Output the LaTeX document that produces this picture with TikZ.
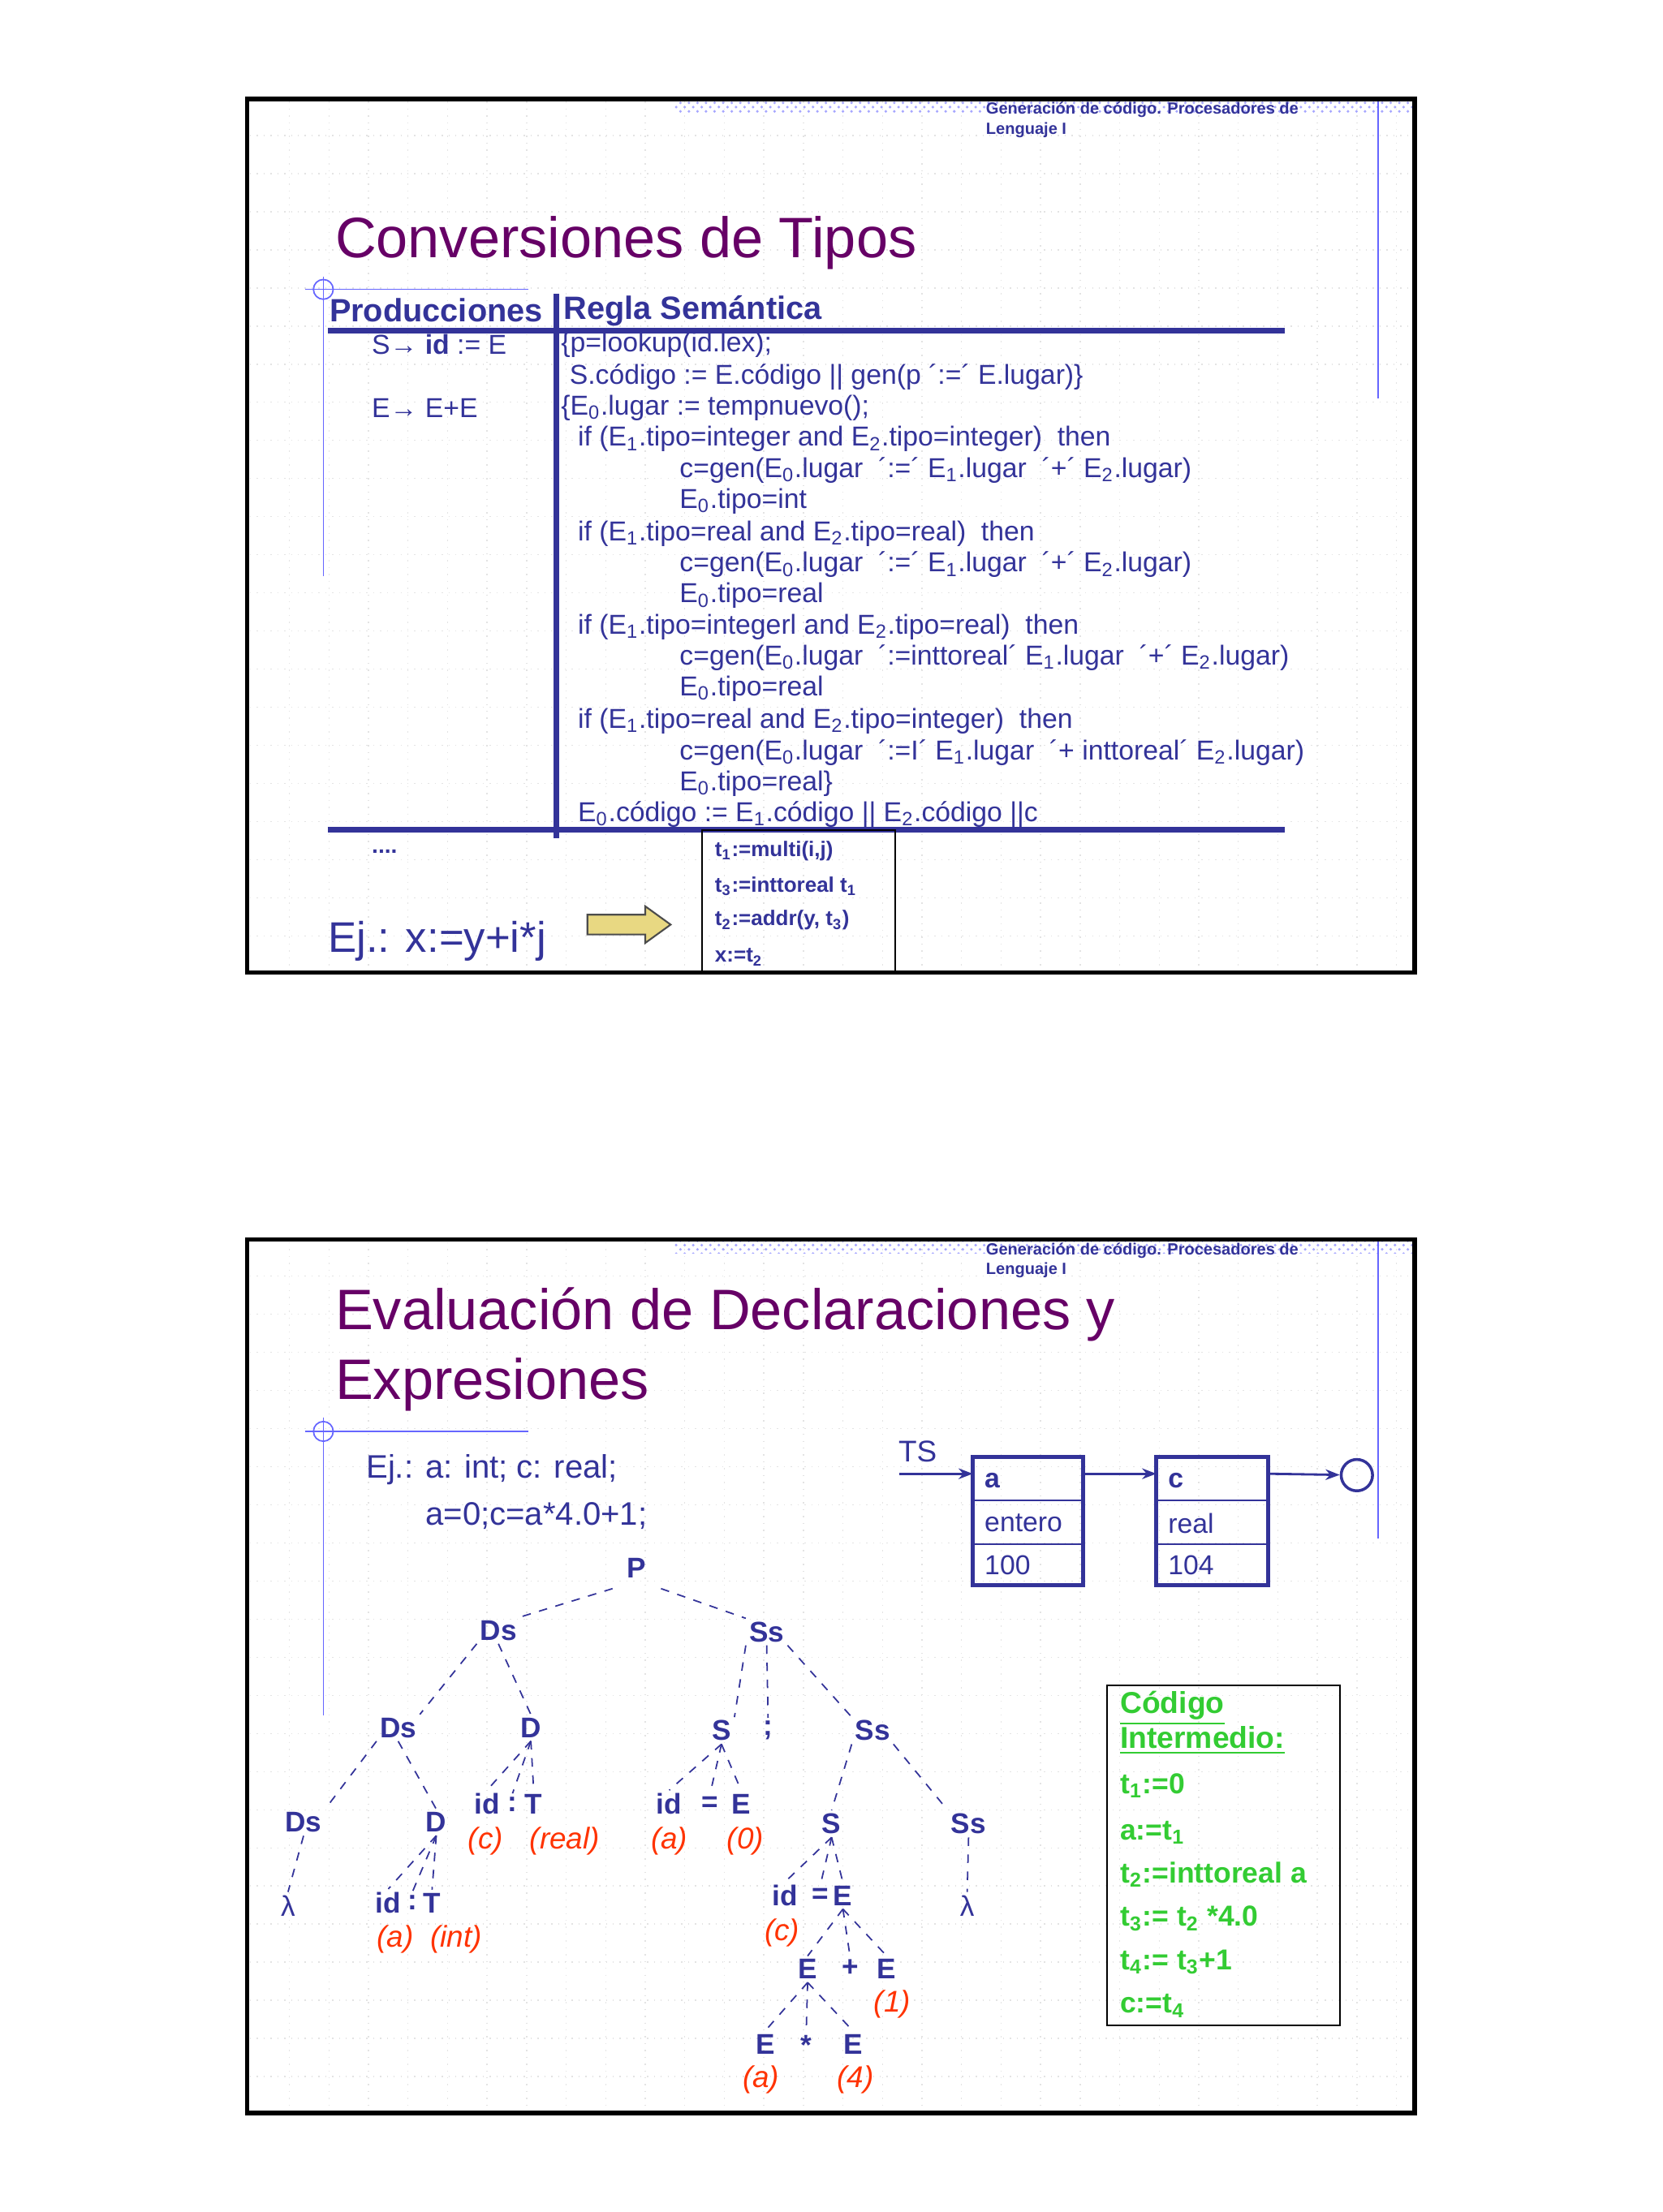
\documentclass[tikz,border=0pt]{standalone}
\usepackage{fontspec}
\setmainfont{Liberation Sans}
\usetikzlibrary{patterns,arrows.meta,shapes.arrows}
\newcommand\fs[1]{\fontsize{#1}{#1}\selectfont}
\newcommand\sbs[1]{\textsubscript{#1}}
\definecolor{navy}{HTML}{333399}
\definecolor{ttl}{HTML}{660066}
\definecolor{grn}{HTML}{33CC33}
\definecolor{rd}{HTML}{FF3300}
\definecolor{ylw}{HTML}{E8D882}
\tikzset{
 frame/.style={draw=black,line width=1.6pt},
 tx/.style={anchor=west,inner sep=0pt,text=navy,font=\fs{9.6pt}},
 hdr/.style={anchor=west,inner sep=0pt,text=navy,font=\fs{5.7pt}\bfseries},
 ttlst/.style={anchor=west,inner sep=0pt,text=ttl,font=\fs{20pt}},
 tn/.style={inner sep=1pt,text=navy,font=\fs{10pt}\bfseries},
 rl/.style={inner sep=0pt,text=rd,font=\fs{10.5pt}\itshape},
 ed/.style={draw=navy,dashed,line width=0.5pt},
 cd/.style={anchor=west,inner sep=0pt,text=grn,font=\fs{10.1pt}\bfseries},
 grid/.style={draw=gray!22,dotted,line width=0.4pt},
 thinblue/.style={draw=blue!60,line width=0.5pt}
}
\begin{document}
\begin{tikzpicture}[x=0.017396cm,y=-0.017396cm]
\useasboundingbox[fill=white] (0,0) rectangle (1177.3,1567);
% ===== grids =====
\foreach \yo in {0,808}{
 \foreach \gy in {96,123,...,680} \draw[grid] (177,\gy+\yo) -- (1000,\gy+\yo);
 \foreach \gx in {205,233,...,1000} \draw[grid] (\gx,72+\yo) -- (\gx,687+\yo);
 \fill[pattern=crosshatch dots,pattern color=blue!35] (478,71+\yo) rectangle (1001,80+\yo);
 \draw[thinblue] (976,71+\yo) -- (976,282+\yo);
 \node[hdr] (h1\yo) at (698,78+\yo) {Generación de código. Procesadores de};
 \node[hdr] (h2\yo) at (698,92+\yo) {Lenguaje I};
}
% ===== slide 1 =====
\draw[thinblue] (216,205) -- (374,205);
\draw[thinblue] (229,196) -- (229,408);
\draw[thinblue] (229,205) circle (7);
\node[ttlst] (t1) at (237,172) {Conversiones de Tipos};
\node[tx,font=\fs{11.3pt}\bfseries] (ph) at (233,220) {Producciones};
\node[tx,font=\fs{11.3pt}\bfseries] (rh) at (399,220) {Regla Semántica};
\draw[navy,line width=2pt] (232,234) -- (910,234);
\draw[navy,line width=2pt] (232,588) -- (910,588);
\draw[navy,line width=2pt] (394,208) -- (394,594);
\node[tx] (l1) at (263,244) {S→ \textbf{id} := E};
\node[tx] (l2) at (263,289) {E→ E+E};
\node[tx] (r1) at (397,244) {\{p=lookup(id.lex);};
\node[tx] (r2) at (403,267) {S.código := E.código || gen(p ´:=´ E.lugar)\}};
\node[tx] (r3) at (397,289) {\{E\sbs0.lugar := tempnuevo();};
\node[tx] (r4) at (409,311) {if (E\sbs1.tipo=integer and E\sbs2.tipo=integer)\ \ then};
\node[tx] (r5) at (481,333) {c=gen(E\sbs0.lugar\ \ ´:=´\ E\sbs1.lugar\ \ ´+´\ E\sbs2.lugar)};
\node[tx] (r6) at (481,355) {E\sbs0.tipo=int};
\node[tx] (r7) at (409,378) {if (E\sbs1.tipo=real and E\sbs2.tipo=real)\ \ then};
\node[tx] (r8) at (481,400) {c=gen(E\sbs0.lugar\ \ ´:=´\ E\sbs1.lugar\ \ ´+´\ E\sbs2.lugar)};
\node[tx] (r9) at (481,422) {E\sbs0.tipo=real};
\node[tx] (r10) at (409,444) {if (E\sbs1.tipo=integerl and E\sbs2.tipo=real)\ \ then};
\node[tx] (r11) at (481,466) {c=gen(E\sbs0.lugar\ \ ´:=inttoreal´\ E\sbs1.lugar\ \ ´+´\ E\sbs2.lugar)};
\node[tx] (r12) at (481,488) {E\sbs0.tipo=real};
\node[tx] (r13) at (409,511) {if (E\sbs1.tipo=real and E\sbs2.tipo=integer)\ \ then};
\node[tx] (r14) at (481,533) {c=gen(E\sbs0.lugar\ \ ´:=I´\ E\sbs1.lugar\ \ ´+ inttoreal´\ E\sbs2.lugar)};
\node[tx] (r15) at (481,555) {E\sbs0.tipo=real\}};
\node[tx] (r16) at (409,577) {E\sbs0.código := E\sbs1.código || E\sbs2.código ||c};
\node[tx,font=\fs{8pt}\bfseries] (dots) at (263,603) {....};
\draw[black,line width=0.6pt] (497,588) rectangle (634,689);
\node[tx,font=\fs{7.4pt}\bfseries] (c1) at (506,603) {t\sbs1:=multi(i,j)};
\node[tx,font=\fs{7.4pt}\bfseries] (c2) at (506,628) {t\sbs3:=inttoreal t\sbs1};
\node[tx,font=\fs{7.4pt}\bfseries] (c3) at (506,652) {t\sbs2:=addr(y, t\sbs3)};
\node[tx,font=\fs{7.4pt}\bfseries] (c4) at (506,678) {x:=t\sbs2};
\node[tx,font=\fs{15pt}] (ej1) at (232,667) {Ej.: x:=y+i*j};
\draw[fill=ylw,draw=gray!60!black,line width=0.6pt] (416,648) -- (457,648) -- (457,642) -- (475,655) -- (457,668) -- (457,662) -- (416,662) -- cycle;
\draw[frame] (175,70) rectangle (1002,689);
% ===== slide 2 =====
\draw[thinblue] (216,1014) -- (374,1014);
\draw[thinblue] (229,1004) -- (229,1215);
\draw[thinblue] (229,1014) circle (7);
\node[ttlst] (t2a) at (237,931) {Evaluación de Declaraciones y};
\node[ttlst] (t2b) at (237,981) {Expresiones};
\node[tx,font=\fs{11.4pt}] (e1) at (259,1041) {Ej.: a: int; c: real;};
\node[tx,font=\fs{11.4pt}] (e2) at (301,1074) {a=0;c=a*4.0+1;};
% symbol table
\node[tx,font=\fs{10.5pt}] (ts) at (636,1028) {TS};
\coordinate (tsin) at (637,1044);
\draw[navy,line width=1.5pt] (689,1032) rectangle (767,1123);
\draw[navy,line width=0.6pt] (689,1063) -- (767,1063) (689,1094) -- (767,1094);
\draw[navy,line width=1.5pt] (819,1032) rectangle (898,1123);
\draw[navy,line width=0.6pt] (819,1063) -- (898,1063) (819,1094) -- (898,1094);
\node[tx,font=\fs{9.6pt}\bfseries] (ba) at (697,1049) {a};
\node[tx,font=\fs{9.6pt}] (bb) at (697,1079) {entero};
\node[tx,font=\fs{9.6pt}] (bc) at (697,1109) {100};
\node[tx,font=\fs{9.6pt}\bfseries] (ca) at (827,1049) {c};
\node[tx,font=\fs{9.6pt}] (cb) at (827,1079) {real};
\node[tx,font=\fs{9.6pt}] (cc) at (827,1109) {104};
\coordinate (A) at (689,1044); \coordinate (Ar) at (767,1044);
\coordinate (C) at (819,1044); \coordinate (Cr) at (898,1044);
\node[draw=navy,line width=1pt,circle,minimum size=11pt,inner sep=0pt] (nil) at (961,1045) {};
\draw[navy,line width=0.8pt,-{Stealth[length=5pt]}] (tsin) -- (A);
\draw[navy,line width=0.8pt,-{Stealth[length=5pt]}] (Ar) -- (C);
\draw[navy,line width=0.8pt,-{Stealth[length=5pt]}] (Cr) -- (nil);
% tree
\node[tn] (P) at (451,1111) {P};
\node[tn] (Ds1) at (353,1155) {Ds};
\node[tn] (Ss1) at (543,1156) {Ss};
\node[tn] (Ds2) at (282,1224) {Ds};
\node[tn] (D1) at (376,1224) {D};
\node[tn] (S1) at (511,1226) {S};
\node[tn] (semi) at (544,1226) {;};
\node[tn] (Ss2) at (618,1226) {Ss};
\node[tn] (Ds3) at (215,1291) {Ds};
\node[tn] (D2) at (309,1291) {D};
\node[tn] (id1) at (345,1278) {id};
\node[tn] (co1) at (363,1278) {:};
\node[tn] (T1) at (378,1278) {T};
\node[rl] (rc1) at (344,1304) {(c)};
\node[rl] (rr1) at (400,1304) {(real)};
\node[tn] (id2) at (474,1278) {id};
\node[tn] (eq2) at (503,1278) {=};
\node[tn] (E2) at (525,1278) {E};
\node[rl] (ra2) at (474,1304) {(a)};
\node[rl] (r02) at (528,1304) {(0)};
\node[tn] (S2) at (589,1292) {S};
\node[tn] (Ss3) at (686,1292) {Ss};
\node[tn,font=\fs{10pt}] (lam1) at (204,1350) {λ};
\node[tn] (id3) at (275,1348) {id};
\node[tn] (co3) at (292,1348) {:};
\node[tn] (T3) at (306,1348) {T};
\node[rl] (ra3) at (280,1374) {(a)};
\node[rl] (ri3) at (323,1374) {(int)};
\node[tn,font=\fs{10pt}] (lam2) at (685,1350) {λ};
\node[tn] (id4) at (556,1343) {id};
\node[tn] (eq4) at (581,1343) {=};
\node[tn] (E4) at (597,1343) {E};
\node[rl] (rc4) at (554,1369) {(c)};
\node[tn] (E5) at (572,1395) {E};
\node[tn] (pl5) at (602,1394) {+};
\node[tn] (E6) at (628,1395) {E};
\node[rl] (r16) at (632,1420) {(1)};
\node[tn] (E7) at (542,1448) {E};
\node[tn] (st7) at (571,1449) {*};
\node[tn] (E8) at (604,1448) {E};
\node[rl] (ra7) at (539,1473) {(a)};
\node[rl] (r48) at (606,1473) {(4)};
\draw[ed] (P.south west) ++(-8,5) -- (Ds1.north east);
\draw[ed] (P.south east) ++(8,5) -- (Ss1.north west);
\draw[ed] (Ds1.south west) -- (Ds2.north east);
\draw[ed] (Ds1.south) -- (D1.north);
\draw[ed] (Ss1.south west) -- (S1.north east);
\draw[ed] (Ss1.south) -- (semi.north);
\draw[ed] (Ss1.south east) -- (Ss2.north west);
\draw[ed] (Ds2.south west) -- (Ds3.north east);
\draw[ed] (Ds2.south) -- (D2.north);
\foreach \c in {id1,co1,T1} \draw[ed] (D1.south) -- (\c.north);
\foreach \c in {id2,eq2,E2} \draw[ed] (S1.south) -- (\c.north);
\draw[ed] (Ss2.south west) -- (S2.north);
\draw[ed] (Ss2.south east) -- (Ss3.north west);
\draw[ed] (Ds3.south) -- (lam1.north);
\draw[ed] (Ss3.south) -- (lam2.north);
\foreach \c in {id3,co3,T3} \draw[ed] (D2.south) -- (\c.north);
\foreach \c in {id4,eq4,E4} \draw[ed] (S2.south) -- (\c.north);
\foreach \c in {E5,pl5,E6} \draw[ed] (E4.south) -- (\c.north);
\foreach \c in {E7,st7,E8} \draw[ed] (E5.south) -- (\c.north);
% code box
\draw[black,line width=0.6pt] (784,1194) rectangle (949,1435);
\node[cd,font=\fs{10.6pt}\bfseries] (k1) at (793,1210) {\underline{Código}};
\node[cd,font=\fs{10.6pt}\bfseries] (k2) at (793,1233) {\underline{Intermedio:}};
\node[cd] (k3) at (793,1265) {t\sbs1:=0};
\node[cd] (k4) at (793,1298) {a:=t\sbs1};
\node[cd] (k5) at (793,1328) {t\sbs2:=inttoreal a};
\node[cd] (k6) at (793,1359) {t\sbs3:= t\sbs2 *4.0};
\node[cd] (k7) at (793,1390) {t\sbs4:= t\sbs3+1};
\node[cd] (k8) at (793,1421) {c:=t\sbs4};
\draw[frame] (175,878) rectangle (1002,1497);
\end{tikzpicture}
\end{document}
